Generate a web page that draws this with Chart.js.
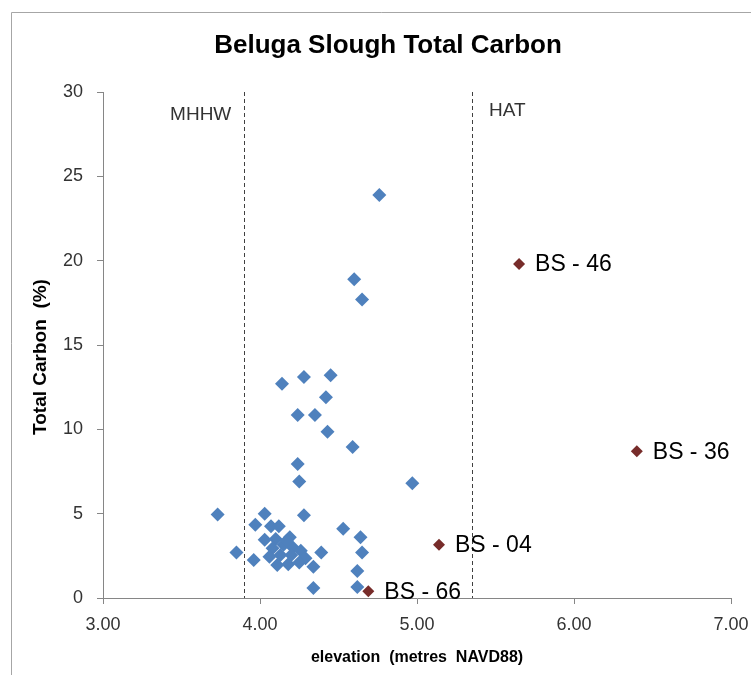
<!DOCTYPE html>
<html>
<head>
<meta charset="utf-8">
<script src="https://cdn.jsdelivr.net/npm/chart.js@4/dist/chart.umd.min.js"></script>
<style>
  html, body { margin: 0; padding: 0; background: #fff; }
  #wrap { width: 751px; height: 675px; position: relative; }
</style>
</head>
<body>
<div id="wrap"><canvas id="myChart" width="751" height="675"></canvas></div>
<script>
// blue samples: elevation (m NAVD88) and total carbon (%)
var elev = [4.76, 4.60, 4.65, 4.14, 4.28, 4.45, 4.42, 4.24, 4.35, 4.43, 4.59, 4.24, 4.25, 4.97,
            3.73, 4.03, 4.28, 4.53, 4.64, 3.97, 4.07, 4.12, 3.85, 4.65, 3.96, 4.62, 4.34, 4.34, 4.62, 4.39,
            4.03, 4.10, 4.19, 4.15, 4.08, 4.21, 4.26, 4.29, 4.06, 4.13, 4.20, 4.11, 4.18, 4.25, 4.17];
var carbon = [23.9, 18.9, 17.7, 12.7, 13.1, 13.2, 11.9, 10.85, 10.85, 9.85, 8.95, 7.95, 6.9, 6.8,
              4.95, 5.0, 4.9, 4.1, 3.6, 4.35, 4.25, 4.25, 2.7, 2.7, 2.25, 1.6, 1.85, 0.6, 0.65, 2.7,
              3.45, 3.5, 3.6, 3.15, 2.95, 3.0, 2.8, 2.35, 2.45, 2.55, 2.55, 1.95, 2.0, 2.1, 3.4];

// labelled samples
var siteNames = ["BS - 46", "BS - 36", "BS - 04", "BS - 66"];
var siteElev = [5.65, 6.40, 5.14, 4.69];
var siteCarbon = [19.8, 8.7, 3.15, 0.4];

// tidal datums
var refNames = ["MHHW", "HAT"];
var refElev = [3.9, 5.35];

var xTicks = [3, 4, 5, 6, 7];
var yTicks = [0, 5, 10, 15, 20, 25, 30];

var blueData = elev.map(function (e, i) { return { x: e, y: carbon[i] }; });
var redData = siteElev.map(function (e, i) { return { x: e, y: siteCarbon[i] }; });

var FONT = "'Liberation Sans', Arial, sans-serif";

var extras = {
  id: 'extras',
  beforeDatasetsDraw: function (chart) {
    var c = chart.ctx, xs = chart.scales.x, ys = chart.scales.y;
    c.save();
    // frame
    c.strokeStyle = '#a6a6a6';
    c.lineWidth = 1;
    c.beginPath();
    c.moveTo(11.5, 675);
    c.lineTo(11.5, 12.5);
    c.lineTo(751, 12.5);
    c.stroke();
    // dashed reference lines
    c.strokeStyle = '#404040';
    c.setLineDash([4, 3]);
    refElev.forEach(function (v, i) {
      var px = Math.round(xs.getPixelForValue(v)) + 0.5;
      c.beginPath();
      c.moveTo(px, ys.getPixelForValue(30));
      c.lineTo(px, ys.getPixelForValue(0));
      c.stroke();
    });
    c.setLineDash([]);
    c.fillStyle = '#333';
    c.font = '19px ' + FONT;
    c.textBaseline = 'middle';
    c.textAlign = 'right';
    c.fillText(refNames[0], xs.getPixelForValue(refElev[0]) - 13, 115);
    c.textAlign = 'left';
    c.fillText(refNames[1], xs.getPixelForValue(refElev[1]) + 17, 111);
    // titles
    c.fillStyle = '#000';
    c.textAlign = 'center';
    c.font = 'bold 26px ' + FONT;
    c.fillText('Beluga Slough Total Carbon', 388, 46);
    c.font = 'bold 16px ' + FONT;
    c.fillText('elevation  (metres  NAVD88)', 417, 658);
    c.translate(41, 357);
    c.rotate(-Math.PI / 2);
    c.font = 'bold 19px ' + FONT;
    c.fillText('Total Carbon  (%)', 0, 0);
    c.restore();
  },
  afterDatasetsDraw: function (chart) {
    var c = chart.ctx, xs = chart.scales.x, ys = chart.scales.y;
    c.save();
    c.fillStyle = '#000';
    c.font = '23px ' + FONT;
    c.textAlign = 'left';
    c.textBaseline = 'middle';
    siteNames.forEach(function (n, i) {
      c.fillText(n, xs.getPixelForValue(siteElev[i]) + 16, ys.getPixelForValue(siteCarbon[i]) + 1);
    });
    c.restore();
  }
};

var ctx = document.getElementById("myChart");
var myChart = new Chart(ctx, {
  type: 'scatter',
  data: {
    datasets: [
      {
        data: blueData,
        backgroundColor: '#4F81BD',
        borderColor: '#4F81BD',
        pointStyle: 'rectRot',
        pointRadius: 7,
        borderWidth: 0
      },
      {
        data: redData,
        backgroundColor: '#772C2A',
        borderColor: '#772C2A',
        pointStyle: 'rectRot',
        pointRadius: 6,
        borderWidth: 0
      }
    ]
  },
  options: {
    responsive: false,
    animation: false,
    clip: false,
    layout: { padding: { left: 0, top: 92, right: 20, bottom: 0 } },
    plugins: { legend: { display: false }, tooltip: { enabled: false } },
    scales: {
      x: {
        type: 'linear',
        min: 3, max: 7,
        afterBuildTicks: function (s) { s.ticks = xTicks.map(function (v) { return { value: v }; }); },
        afterFit: function (s) { s.height = 77; s.paddingLeft = 0; s.paddingRight = 0; },
        border: { color: '#868686', width: 1 },
        grid: { drawOnChartArea: false, drawTicks: true, tickLength: 6, color: '#868686' },
        ticks: {
          padding: 10,
          color: '#333',
          font: { size: 18, family: FONT },
          maxRotation: 0,
          callback: function (v) { return Number(v).toFixed(2); }
        }
      },
      y: {
        type: 'linear',
        min: 0, max: 30,
        afterBuildTicks: function (s) { s.ticks = yTicks.map(function (v) { return { value: v }; }); },
        afterFit: function (s) { s.width = 103; s.paddingTop = 0; s.paddingBottom = 0; },
        border: { color: '#868686', width: 1 },
        grid: { drawOnChartArea: false, drawTicks: true, tickLength: 6, color: '#868686' },
        ticks: {
          padding: 14,
          color: '#333',
          font: { size: 18, family: FONT }
        }
      }
    }
  },
  plugins: [extras]
});
</script>
</body>
</html>
